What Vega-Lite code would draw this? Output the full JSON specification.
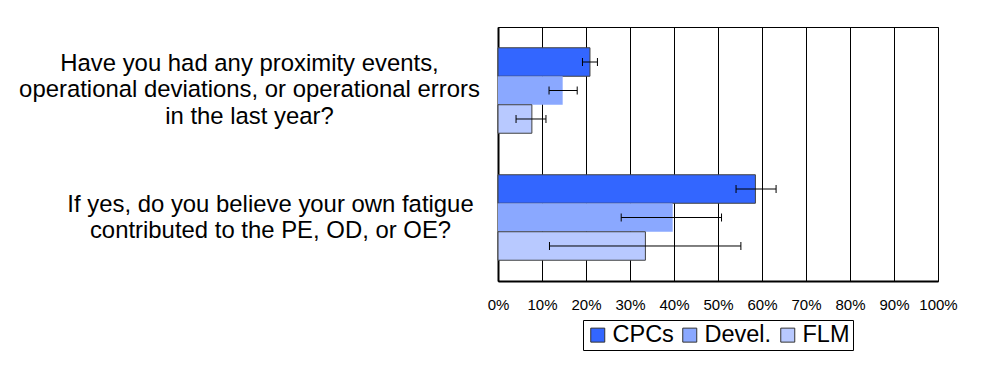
{
  "$schema": "https://vega.github.io/schema/vega-lite/v6.json",
  "width": 440,
  "height": 254,
  "autosize": {"type": "none"},
  "padding": {"left": 498, "top": 27, "right": 64, "bottom": 92},
  "background": "white",
  "config": {
    "view": {"stroke": "#000", "strokeWidth": 1},
    "font": "Liberation Sans",
    "legend": {"layout": {"bottom": {"anchor": "middle"}}}
  },
  "data": {
    "values": [
      {"question": "Have you had any proximity events,\noperational deviations, or operational errors\nin the last year?", "series": "CPCs", "pct": 0.209, "lo": 0.192, "hi": 0.226},
      {"question": "Have you had any proximity events,\noperational deviations, or operational errors\nin the last year?", "series": "Devel.", "pct": 0.147, "lo": 0.116, "hi": 0.180},
      {"question": "Have you had any proximity events,\noperational deviations, or operational errors\nin the last year?", "series": "FLM", "pct": 0.077, "lo": 0.041, "hi": 0.109},
      {"question": "If yes, do you believe your own fatigue\ncontributed to the PE, OD, or OE?", "series": "CPCs", "pct": 0.585, "lo": 0.541, "hi": 0.632},
      {"question": "If yes, do you believe your own fatigue\ncontributed to the PE, OD, or OE?", "series": "Devel.", "pct": 0.397, "lo": 0.280, "hi": 0.508},
      {"question": "If yes, do you believe your own fatigue\ncontributed to the PE, OD, or OE?", "series": "FLM", "pct": 0.335, "lo": 0.117, "hi": 0.552}
    ]
  },
  "encoding": {
    "y": {
      "field": "question",
      "type": "nominal",
      "sort": null,
      "scale": {"paddingInner": 0.327, "paddingOuter": 0.1635},
      "axis": {
        "title": null,
        "domain": true,
        "domainColor": "#000",
        "domainWidth": 2,
        "ticks": false,
        "tickSize": 0,
        "labelAlign": "center",
        "labelBaseline": "middle",
        "labelFont": "Liberation Sans",
        "labelFontSize": 23.9,
        "labelLineHeight": 26.5,
        "labelColor": "#000",
        "labelLimit": 0,
        "labelExpr": "split(datum.label, '\\n')",
        "labelPadding": {"condition": {"test": "indexof(datum.value, 'If yes') == 0", "value": 228}, "value": 249},
        "labelOffset": {"condition": {"test": "indexof(datum.value, 'If yes') == 0", "value": -13}, "value": -27}
      }
    },
    "yOffset": {
      "field": "series",
      "type": "nominal",
      "sort": ["CPCs", "Devel.", "FLM"],
      "scale": {"paddingInner": 0, "paddingOuter": 0}
    }
  },
  "layer": [
    {
      "mark": {"type": "bar", "strokeWidth": 1},
      "encoding": {
        "x": {
          "field": "pct",
          "type": "quantitative",
          "scale": {"domain": [0, 1], "nice": false},
          "axis": {
            "title": null,
            "values": [0, 0.1, 0.2, 0.3, 0.4, 0.5, 0.6, 0.7, 0.8, 0.9, 1],
            "format": ".0%",
            "grid": true,
            "gridColor": "#000",
            "gridOpacity": 1,
            "gridWidth": 1,
            "domainColor": "#000",
            "domainWidth": 2,
            "ticks": false,
            "tickSize": 0,
            "labelPadding": 16,
            "labelFont": "Liberation Sans",
            "labelFontSize": 15,
            "labelColor": "#000",
            "labelFlush": false,
            "labelOverlap": false
          }
        },
        "fill": {
          "field": "series",
          "type": "nominal",
          "sort": ["CPCs", "Devel.", "FLM"],
          "scale": {"domain": ["CPCs", "Devel.", "FLM"], "range": ["#3366FF", "#8AA8FF", "#B8C9FF"]},
          "legend": {
            "title": null,
            "orient": "bottom",
            "direction": "horizontal",
            "labelFont": "Liberation Sans",
            "labelFontSize": 23.5,
            "labelColor": "#000",
            "symbolType": "square",
            "symbolSize": 196,
            "symbolStrokeColor": "#333",
            "symbolStrokeWidth": 1,
            "symbolOpacity": 1,
            "strokeColor": "#000",
            "fillColor": "#fff",
            "padding": 3,
            "columnPadding": 4,
            "labelOffset": 3,
            "offset": 8
          }
        },
        "stroke": {
          "condition": {"test": "datum.series === 'Devel.'", "value": null},
          "value": "#404040"
        }
      }
    },
    {
      "mark": {"type": "rule", "color": "#000", "strokeWidth": 1},
      "encoding": {
        "x": {"field": "lo", "type": "quantitative", "title": null},
        "x2": {"field": "hi"}
      }
    },
    {
      "mark": {"type": "tick", "color": "#000", "size": 8, "thickness": 1, "opacity": 1},
      "encoding": {
        "x": {"field": "lo", "type": "quantitative", "title": null}
      }
    },
    {
      "mark": {"type": "tick", "color": "#000", "size": 8, "thickness": 1, "opacity": 1},
      "encoding": {
        "x": {"field": "hi", "type": "quantitative", "title": null}
      }
    }
  ]
}
